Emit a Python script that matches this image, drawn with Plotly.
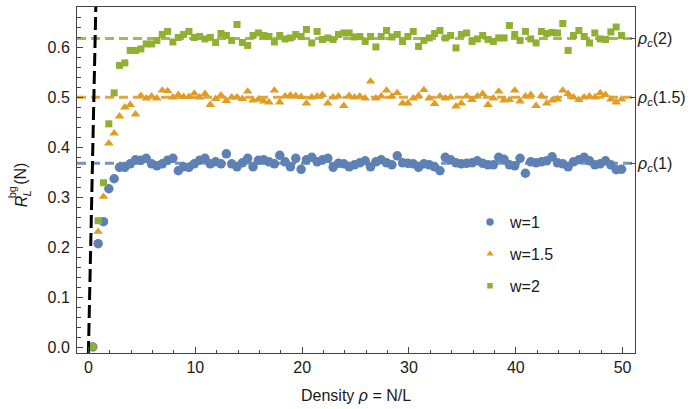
import plotly.graph_objects as go

# Density grid rho = N/L
density = [round(0.4 + 0.5 * i, 1) for i in range(100)]

# R_L^bg(N) for the three interaction widths
r_w1 = [0.000, 0.207, 0.251, 0.317, 0.337, 0.360, 0.360, 0.367, 0.375, 0.374,
        0.378, 0.367, 0.363, 0.367, 0.374, 0.378, 0.353, 0.361, 0.360, 0.367,
        0.374, 0.378, 0.367, 0.371, 0.367, 0.387, 0.367, 0.361, 0.369, 0.378,
        0.361, 0.374, 0.375, 0.371, 0.367, 0.384, 0.371, 0.361, 0.378, 0.356,
        0.375, 0.380, 0.371, 0.375, 0.378, 0.360, 0.368, 0.367, 0.361, 0.365,
        0.369, 0.373, 0.361, 0.371, 0.375, 0.369, 0.365, 0.383, 0.369, 0.368,
        0.367, 0.360, 0.367, 0.365, 0.361, 0.353, 0.380, 0.375, 0.369, 0.367,
        0.368, 0.369, 0.373, 0.368, 0.365, 0.365, 0.380, 0.376, 0.365, 0.363,
        0.378, 0.348, 0.371, 0.369, 0.371, 0.373, 0.381, 0.369, 0.367, 0.361,
        0.371, 0.375, 0.380, 0.373, 0.365, 0.367, 0.373, 0.365, 0.355, 0.356]

r_w15 = [0.000, 0.231, 0.301, 0.408, 0.428, 0.462, 0.480, 0.485, 0.466, 0.503,
         0.498, 0.502, 0.498, 0.514, 0.513, 0.500, 0.505, 0.501, 0.501, 0.508,
         0.500, 0.507, 0.485, 0.497, 0.504, 0.493, 0.500, 0.500, 0.497, 0.512,
         0.494, 0.496, 0.492, 0.490, 0.514, 0.490, 0.502, 0.504, 0.503, 0.501,
         0.488, 0.500, 0.502, 0.505, 0.488, 0.500, 0.502, 0.483, 0.503, 0.500,
         0.502, 0.498, 0.532, 0.498, 0.502, 0.514, 0.502, 0.509, 0.488, 0.488,
         0.498, 0.503, 0.515, 0.498, 0.487, 0.502, 0.498, 0.500, 0.482, 0.488,
         0.502, 0.495, 0.502, 0.507, 0.485, 0.498, 0.512, 0.494, 0.495, 0.514,
         0.492, 0.502, 0.505, 0.483, 0.503, 0.488, 0.494, 0.496, 0.514, 0.507,
         0.500, 0.495, 0.500, 0.502, 0.500, 0.509, 0.505, 0.496, 0.490, 0.496]

r_w2 = [0.000, 0.253, 0.329, 0.447, 0.509, 0.564, 0.569, 0.594, 0.594, 0.597,
        0.607, 0.607, 0.614, 0.626, 0.632, 0.611, 0.620, 0.626, 0.632, 0.620,
        0.622, 0.617, 0.620, 0.610, 0.628, 0.624, 0.614, 0.646, 0.610, 0.604,
        0.624, 0.629, 0.624, 0.622, 0.611, 0.624, 0.617, 0.619, 0.626, 0.622,
        0.636, 0.609, 0.632, 0.616, 0.619, 0.616, 0.626, 0.629, 0.629, 0.621,
        0.622, 0.612, 0.622, 0.601, 0.622, 0.634, 0.621, 0.626, 0.612, 0.622,
        0.632, 0.602, 0.614, 0.619, 0.628, 0.634, 0.619, 0.624, 0.599, 0.626,
        0.629, 0.612, 0.617, 0.624, 0.616, 0.612, 0.619, 0.619, 0.644, 0.626,
        0.614, 0.632, 0.617, 0.609, 0.632, 0.628, 0.630, 0.629, 0.648, 0.594,
        0.624, 0.634, 0.622, 0.609, 0.629, 0.617, 0.616, 0.631, 0.641, 0.624]

# Critical values rho_c(w) and their labels
rho_c = [0.3679, 0.5, 0.618]
rho_c_labels = ["<i>ρ<sub>c</sub></i>(1)", "<i>ρ<sub>c</sub></i>(1.5)", "<i>ρ<sub>c</sub></i>(2)"]

# Low-density reference line R = rho
ref_rho = [-0.05, 0.75]

series_names = ["w=1", "w=1.5", "w=2"]
colors = ["#5E81B5", "#E19C24", "#8FB032"]
line_colors = ["rgba(94,129,181,0.85)", "rgba(225,156,36,0.9)", "rgba(143,176,50,0.85)"]
symbols = ["circle", "triangle-up", "square"]
plot_sizes = [9.5, 8.5, 7]
legend_sizes = [7.5, 6.5, 5.5]

X_RANGE = [-1.08, 51.16]
Y_RANGE = [-0.012, 0.681]
FONT = "Liberation Sans, Arial, sans-serif"
FRAME = "#444444"
TXT = "#1a1a1a"

fig = go.Figure()

for vals, name, col, sym, sz in zip([r_w1, r_w15, r_w2], series_names, colors, symbols, plot_sizes):
    fig.add_trace(go.Scatter(
        x=density, y=vals, mode="markers", name=name, showlegend=False,
        marker=dict(symbol=sym, size=sz, color=col, line=dict(width=0)),
    ))

fig.add_trace(go.Scatter(
    x=ref_rho, y=ref_rho, mode="lines", showlegend=False,
    line=dict(color="black", width=3, dash="13px,5px"),
))

# legend entries with smaller symbols
for i, (name, col, sym, sz) in enumerate(zip(series_names, colors, symbols, legend_sizes)):
    fig.add_trace(go.Scatter(
        x=[None], y=[None], mode="markers", name=name, legendgroup=str(i),
        marker=dict(symbol=sym, size=sz, color=col, line=dict(width=0)),
    ))

# invisible trace carrying the right-hand axis
fig.add_trace(go.Scatter(x=[None], y=[None], yaxis="y2", showlegend=False, hoverinfo="skip"))

shapes = []
for val, lc in zip(rho_c, line_colors):
    shapes.append(dict(type="line", xref="paper", x0=0, x1=1, yref="y", y0=val, y1=val,
                       layer="below", line=dict(color=lc, width=3, dash="9px,5px")))

annotations = [
    dict(text="<i>R</i>", x=0, y=0, xref="paper", yref="paper", showarrow=False,
         textangle=-90, xanchor="center", yanchor="middle", xshift=21 - 77, yshift=352.7 - 201,
         font=dict(family=FONT, size=16, color=TXT)),
    dict(text="<i>L</i>", x=0, y=0, xref="paper", yref="paper", showarrow=False,
         textangle=-90, xanchor="center", yanchor="middle", xshift=27 - 77, yshift=352.7 - 193,
         font=dict(family=FONT, size=11, color=TXT)),
    dict(text="bg", x=0, y=0, xref="paper", yref="paper", showarrow=False,
         textangle=-90, xanchor="center", yanchor="middle", xshift=12 - 77, yshift=352.7 - 192,
         font=dict(family=FONT, size=11, color=TXT)),
    dict(text="(N)", x=0, y=0, xref="paper", yref="paper", showarrow=False,
         textangle=-90, xanchor="center", yanchor="middle", xshift=21 - 77, yshift=352.7 - 173.5,
         font=dict(family=FONT, size=16, color=TXT)),
    dict(text="Density <i>ρ</i> = N/L", x=0.5, y=0, xref="paper", yref="paper", showarrow=False,
         xanchor="center", yanchor="middle", yshift=-(395 - 352.7),
         font=dict(family=FONT, size=16, color=TXT)),
]

fig.update_layout(
    width=693, height=409,
    margin=dict(l=77, r=58, t=7, b=56.3, pad=0),
    paper_bgcolor="white", plot_bgcolor="white",
    font=dict(family=FONT, size=16, color=TXT),
    showlegend=True,
    legend=dict(x=(470 - 77) / 558, y=(352.7 - 205) / 345.7, xanchor="left", yanchor="top",
                bgcolor="rgba(0,0,0,0)", borderwidth=0, tracegroupgap=8,
                font=dict(family=FONT, size=16, color=TXT)),
    xaxis=dict(range=X_RANGE, showgrid=False, zeroline=False,
               showline=True, linecolor=FRAME, linewidth=1, mirror=True,
               tickvals=[0, 10, 20, 30, 40, 50], ticks="inside", ticklen=6, tickcolor=FRAME,
               minor=dict(dtick=2, tick0=0, ticks="inside", ticklen=3.5, tickcolor=FRAME, showgrid=False),
               tickfont=dict(family=FONT, size=16, color=TXT)),
    yaxis=dict(range=Y_RANGE, showgrid=False, zeroline=False,
               showline=True, linecolor=FRAME, linewidth=1, mirror=True,
               tickvals=[0, 0.1, 0.2, 0.3, 0.4, 0.5, 0.6], tickformat=".1f",
               ticks="inside", ticklen=6, tickcolor=FRAME, ticklabelstandoff=3,
               minor=dict(dtick=0.02, tick0=0, ticks="inside", ticklen=3.5, tickcolor=FRAME, showgrid=False),
               tickfont=dict(family=FONT, size=16, color=TXT)),
    yaxis2=dict(range=Y_RANGE, overlaying="y", side="right", showgrid=False, zeroline=False,
                showline=False, tickvals=rho_c, ticktext=rho_c_labels,
                ticks="inside", ticklen=5, tickcolor=FRAME, ticklabelstandoff=2,
                tickfont=dict(family=FONT, size=16, color=TXT)),
    shapes=shapes,
    annotations=annotations,
)

fig.write_html("out.html")
